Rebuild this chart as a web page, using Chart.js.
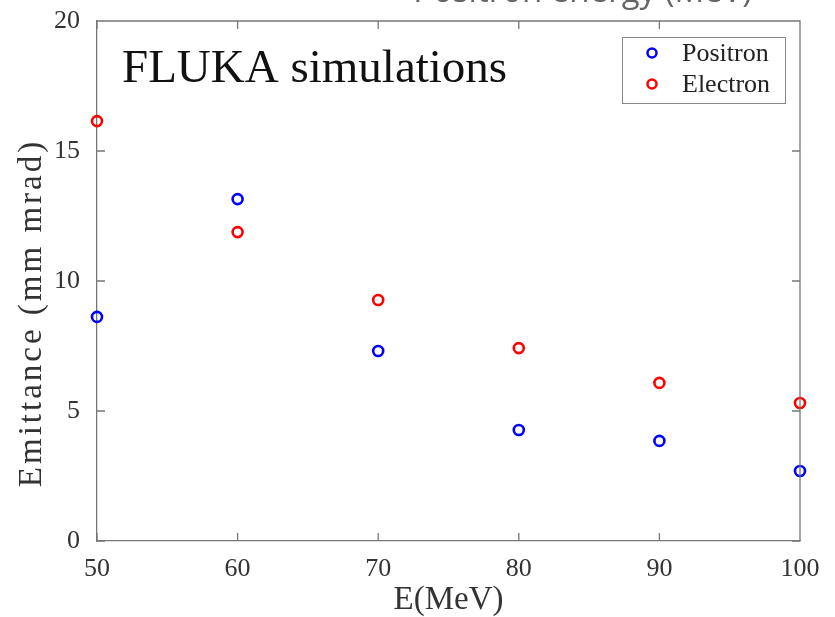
<!DOCTYPE html>
<html>
<head>
<meta charset="utf-8">
<script src="https://cdn.jsdelivr.net/npm/chart.js@4.4.0/dist/chart.umd.min.js"></script>
<style>
  html, body { margin: 0; padding: 0; background: #fff; }
  #wrap { width: 835px; height: 617px; }
</style>
</head>
<body>
<div id="wrap"><canvas id="myChart" width="835" height="617"></canvas></div>
<script>
// energies (MeV) and emittance (mm mrad)
const energies = [50, 60, 70, 80, 90, 100];
const positron = [8.62, 13.15, 7.31, 4.27, 3.85, 2.69];
const electron = [16.15, 11.88, 9.27, 7.42, 6.08, 5.31];
const xTicks = [50, 60, 70, 80, 90, 100];
const yTicks = [0, 5, 10, 15, 20];

const serif = "'Liberation Serif', 'DejaVu Serif', serif";
const axisColor = '#777';

function toPoints(ys) {
    return energies.map((e, i) => ({ x: e, y: ys[i] }));
}

// inward ticks on all four sides, legend box and texts
const boxPlugin = {
    id: 'box',
    afterDatasetsDraw(chart) {
        const ctx = chart.ctx;
        const a = chart.chartArea;
        const xs = chart.scales.x, ys = chart.scales.y;
        ctx.save();
        ctx.strokeStyle = axisColor;
        ctx.lineWidth = 1.3;
        ctx.beginPath();
        ctx.moveTo(a.left, a.top); ctx.lineTo(a.right, a.top); ctx.lineTo(a.right, a.bottom);
        const len = 8;
        xTicks.forEach(v => {
            const px = xs.getPixelForValue(v);
            ctx.moveTo(px, a.bottom); ctx.lineTo(px, a.bottom - len);
            ctx.moveTo(px, a.top); ctx.lineTo(px, a.top + len);
        });
        yTicks.forEach(v => {
            const py = ys.getPixelForValue(v);
            ctx.moveTo(a.left, py); ctx.lineTo(a.left + len, py);
            ctx.moveTo(a.right, py); ctx.lineTo(a.right - len, py);
        });
        ctx.stroke();

        // legend
        const lx = 622, ly = 37, lw = 163, lh = 66;
        ctx.fillStyle = '#fff';
        ctx.fillRect(lx, ly, lw, lh);
        ctx.strokeStyle = '#888';
        ctx.lineWidth = 1;
        ctx.strokeRect(lx + 0.5, ly + 0.5, lw, lh);
        ctx.font = '26px ' + serif;
        ctx.textBaseline = 'middle';
        ctx.textAlign = 'left';
        chart.data.datasets.forEach((ds, i) => {
            const cy = ly + 16 + i * 31;
            ctx.beginPath();
            ctx.arc(lx + 30, cy, 4.5, 0, Math.PI * 2);
            ctx.strokeStyle = ds.borderColor;
            ctx.lineWidth = 2.5;
            ctx.stroke();
            ctx.fillStyle = '#222';
            ctx.fillText(ds.label, lx + 60, cy + 1);
        });

        // annotation
        ctx.fillStyle = '#111';
        ctx.font = '47px ' + serif;
        ctx.textBaseline = 'alphabetic';
        ctx.fillText('FLUKA simulations', 122, 82);

        // y axis title
        ctx.save();
        ctx.translate(32, 313);
        ctx.rotate(-Math.PI / 2);
        ctx.fillStyle = '#333';
        ctx.font = '33px ' + serif;
        ctx.letterSpacing = '3px';
        ctx.textAlign = 'center';
        ctx.textBaseline = 'middle';
        ctx.fillText('Emittance (mm mrad)', 0, 0);
        ctx.restore();

        // cropped heading at top
        ctx.fillStyle = '#666';
        ctx.font = '33px "Open Sans", sans-serif';
        ctx.textAlign = 'right';
        ctx.fillText('Positron energy (MeV)', 752, 2);
        ctx.restore();
    }
};

const chartData = {
    type: 'scatter',
    data: {
        datasets: [
            { label: 'Positron', data: toPoints(positron), borderColor: 'rgb(0, 0, 255)', backgroundColor: 'rgba(0,0,0,0)', clip: false },
            { label: 'Electron', data: toPoints(electron), borderColor: 'rgb(255, 0, 0)', backgroundColor: 'rgba(0,0,0,0)', clip: false }
        ]
    },
    options: {
        responsive: false,
        animation: false,
        layout: { padding: { top: 21, right: 35, left: 0, bottom: 0 } },
        elements: { point: { radius: 5, borderWidth: 2.6, hoverRadius: 5 } },
        plugins: { legend: { display: false }, tooltip: { enabled: false } },
        scales: {
            x: {
                type: 'linear', min: 50, max: 100,
                afterBuildTicks: s => { s.ticks = xTicks.map(v => ({ value: v })); },
                afterFit: s => { s.height = 76; s.paddingLeft = 0; s.paddingRight = 0; },
                grid: { display: false },
                border: { display: true, color: axisColor, width: 1.3 },
                ticks: { color: '#333', font: { family: serif, size: 26 }, padding: 5, maxRotation: 0 },
                title: { display: true, text: 'E(MeV)', color: '#333', font: { family: serif, size: 33, lineHeight: 1.0 }, padding: { top: 0, bottom: 0 } }
            },
            y: {
                type: 'linear', min: 0, max: 20,
                afterBuildTicks: s => { s.ticks = yTicks.map(v => ({ value: v })); },
                afterFit: s => { s.width = 97; s.paddingTop = 0; s.paddingBottom = 0; },
                grid: { display: false },
                border: { display: true, color: axisColor, width: 1.3 },
                ticks: { color: '#333', font: { family: serif, size: 26 }, padding: 9 },
                title: { display: false }
            }
        }
    },
    plugins: [boxPlugin]
};

const ctx = document.getElementById('myChart').getContext('2d');
const myChart = new Chart(ctx, chartData);
</script>
</body>
</html>
